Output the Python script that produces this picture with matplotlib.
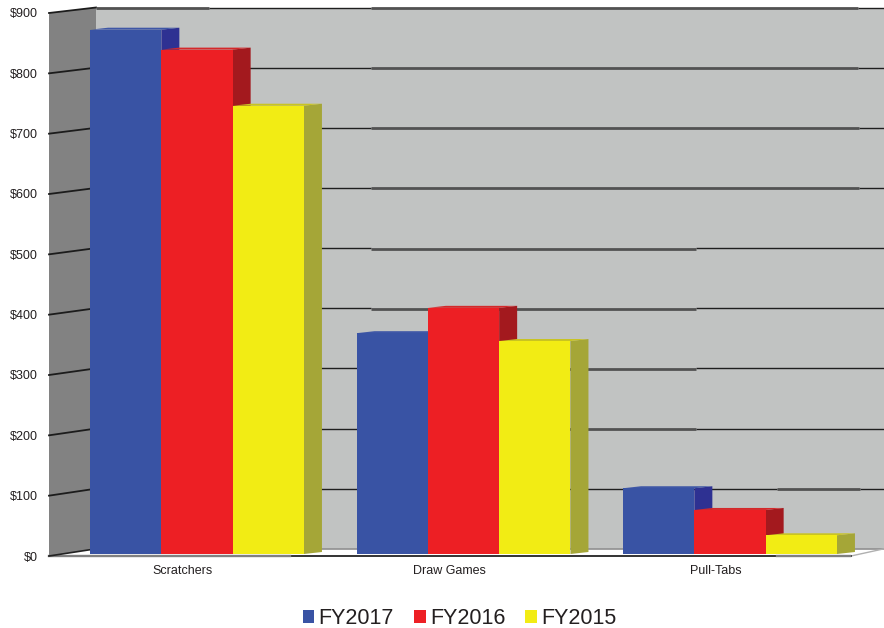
import matplotlib
matplotlib.use("Agg")
import matplotlib.pyplot as plt
from matplotlib.patches import Patch
import numpy as np

plt.rcParams['font.family'] = ['Liberation Sans', 'DejaVu Sans']

categories = ['Scratchers', 'Draw Games', 'Pull-Tabs']
fy2017 = [869, 366, 109]
fy2016 = [836, 408, 73]
fy2015 = [743, 353, 31]
series_names = ['FY2017', 'FY2016', 'FY2015']
y_ticks = [0, 100, 200, 300, 400, 500, 600, 700, 800, 900]
y_tick_labels = [f'${v}' for v in y_ticks]

W, H = 884, 628
PX_X = 266.5          # pixels per category
PX_Y = 543 / 900      # pixels per dollar
L, R, T, B = 49, 884, 13, 556

fig = plt.figure(figsize=(W / 100, H / 100), dpi=100, facecolor='white')
ax = fig.add_axes([L / W, 1 - B / H, (R - L) / W, (B - T) / H])
ax.set_xlim((L - 197) / PX_X, (R - 197) / PX_X)
ax.set_ylim(0, 900)
for s in ax.spines.values():
    s.set_visible(False)
ax.patch.set_alpha(0)

wall_dx = 47 / PX_X
depth_dx, depth_dy = 18 / PX_X, 2 / PX_Y
lift = 2 / PX_Y
bar_w = 71.3 / PX_X
x0, x1 = ax.get_xlim()
floor_end = x1 - 33 / PX_X
ymax = 900


def px(x):
    return x0 + (x - L) / PX_X


def back_y(v):
    """Height of a value on the back wall, which is slightly foreshortened."""
    return v + (7.2 - 1.7 * v / 900) / PX_Y


# walls and floor
ax.fill([x0 + wall_dx, x1, x1, x0 + wall_dx],
        [back_y(0), back_y(0), back_y(ymax), back_y(ymax)],
        color='#c1c3c2', lw=0, clip_on=False, zorder=1)
ax.fill([x0, x0 + wall_dx, x0 + wall_dx, x0],
        [0, back_y(0), back_y(ymax), ymax],
        color='#828282', lw=0, clip_on=False, zorder=1)
ax.fill([x0, x0 + wall_dx, x1, floor_end],
        [0, back_y(0), back_y(0), 0],
        color='white', lw=0, clip_on=False, zorder=1)
ax.plot([x0 + wall_dx, x1], [back_y(0), back_y(0)], color='#8e8e8e', lw=1.2, clip_on=False, zorder=2)
ax.plot([floor_end, x1], [0, back_y(0)], color='#b0b0b0', lw=1.0, clip_on=False, zorder=2)

# gridlines: left wall, then thin dark / thick grey runs on the back wall
thin = dict(color='#1f1f1f', lw=1.0, clip_on=False, zorder=2, solid_capstyle='butt')
thick = dict(color='#525252', lw=2.0, clip_on=False, zorder=2.1, solid_capstyle='butt')
back = {900: [(96, 209, 1), (209, 371, 0), (371, 858, 1), (858, 884, 0)],
        800: [(96, 371, 0), (371, 858, 1), (858, 884, 0)],
        700: [(96, 371, 0), (371, 859, 1), (859, 884, 0)],
        600: [(96, 371, 0), (371, 859, 1), (859, 884, 0)],
        500: [(96, 371, 0), (371, 696, 1), (696, 884, 0)],
        400: [(96, 371, 0), (371, 696, 1), (696, 884, 0)],
        300: [(96, 371, 0), (371, 696, 1), (696, 884, 0)],
        200: [(96, 371, 0), (371, 696, 1), (696, 884, 0)],
        100: [(96, 777, 0), (777, 860, 1), (860, 884, 0)]}
for v, runs in back.items():
    ax.plot([x0, x0 + wall_dx], [v, back_y(v)], color='#1c1c1c', lw=1.3, clip_on=False, zorder=2)
    for a, b, is_thick in runs:
        yv = back_y(v) - (0.5 / PX_Y if is_thick else 0)
        ax.plot([px(a), px(b)], [yv, yv], **(thick if is_thick else thin))

ax.plot([x0, floor_end], [0, 0], color='#111111', lw=1.2, clip_on=False, zorder=2)
ax.plot([px(49), px(290)], [0, 0], color='#808080', lw=1.7, clip_on=False, zorder=2.1)
ax.plot([px(777), px(850)], [0, 0], color='#808080', lw=1.7, clip_on=False, zorder=2.1)
ax.plot([x0, x0 + wall_dx], [0, back_y(0)], color='#222222', lw=1.2, clip_on=False, zorder=2.1)

# bars
positions = np.arange(len(categories))
front = ['#3953a4', '#ed1f24', '#f2ec14']
side = ['#2e3192', '#a3191e', '#a5a637']
top = ['#3f57a6', '#d4282a', '#c9c421']
for j, values in enumerate([fy2017, fy2016, fy2015]):
    for i, v in enumerate(values):
        left = positions[i] + (j - 1.5) * bar_w
        right = left + bar_w
        z = 3 + j
        ax.fill([right, right + depth_dx, right + depth_dx, right],
                [lift, lift + depth_dy, lift + v + depth_dy, lift + v],
                color=side[j], lw=0, zorder=z)
        ax.fill([left, left + depth_dx, right + depth_dx, right],
                [lift + v, lift + v + depth_dy, lift + v + depth_dy, lift + v],
                color=top[j], lw=0, zorder=z)
        ax.bar(left, v, width=bar_w, bottom=lift, align='edge', color=front[j], lw=0, zorder=z + 0.5)

# axes text
ax.set_yticks(y_ticks, y_tick_labels)
ax.set_xticks(positions - 14 / PX_X, categories)
ax.tick_params(axis='y', length=0, pad=8, labelsize=9, labelcolor='#231f20')
ax.tick_params(axis='x', length=0, pad=6.7, labelsize=9, labelcolor='#231f20')

handles = [Patch(facecolor=c, edgecolor='none', label=n) for c, n in zip(front, series_names)]
fig.legend(handles=handles, loc='center', bbox_to_anchor=(459.5 / W, 1 - 619 / H), ncol=3,
           frameon=False, fontsize=15.5, handlelength=0.54, handleheight=0.54,
           handletextpad=0.2, columnspacing=0.93, labelcolor='#231f20')

fig.savefig('out.png', dpi=100)
